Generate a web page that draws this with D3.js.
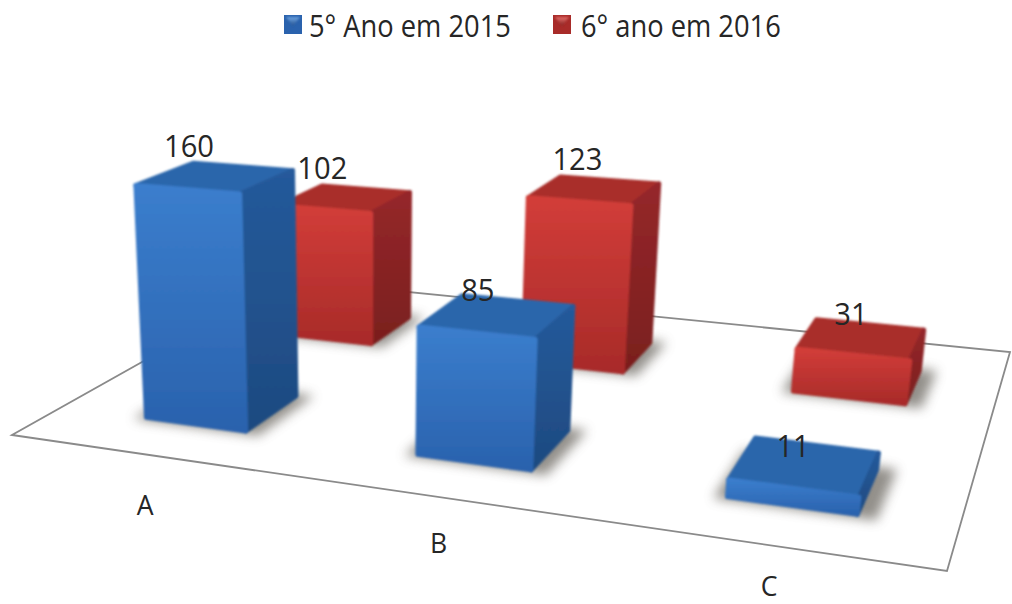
<!DOCTYPE html>
<html>
<head>
<meta charset="utf-8">
<script src="https://cdn.jsdelivr.net/npm/d3@7/dist/d3.min.js"></script>
<style>
  html, body { margin: 0; padding: 0; background: #fff; }
  svg { display: block; }
  text { font-family: "Open Sans", sans-serif; fill: #262626; }
</style>
</head>
<body>
<svg id="chart" width="1012" height="604"></svg>
<script>
// Chart data
const categories = ["A", "B", "C"];
const seriesNames = ["5° Ano em 2015", "6° ano em 2016"];
const values2015 = [160, 85, 11];
const values2016 = [102, 123, 31];
const seriesValues = [values2015, values2016];

// Palette per series: front top/bottom, side top/bottom, top face, rim light
const palettes = [
  { front: ["#3b7ecd", "#2a62ad"], side: ["#255a9b", "#1e4a80"], top: "#2c66ab", rim: "#4a8ad6", swatch: ["#6fa6e4", "#234f8c"] },
  { front: ["#d23d39", "#a82b29"], side: ["#95272a", "#7a1f1e"], top: "#a92e2b", rim: "#e0524d", swatch: ["#e8706b", "#7d1f1e"] }
];

const svg = d3.select("#chart");
const defs = svg.append("defs");

// Floor quadrilateral on screen: front-left, front-right, back-right, back-left
const floorCorners = [[12, 435], [947, 571], [1010, 352], [288, 280]];
const verticalVanish = [371, 5327];

// Camera matrix from unit floor square plus a vanishing point for the vertical axis
function buildCamera([p0, p1, p2, p3]) {
  const dx1 = p1[0] - p2[0], dx2 = p3[0] - p2[0], sx = p0[0] - p1[0] + p2[0] - p3[0];
  const dy1 = p1[1] - p2[1], dy2 = p3[1] - p2[1], sy = p0[1] - p1[1] + p2[1] - p3[1];
  const den = dx1 * dy2 - dx2 * dy1;
  const g = (sx * dy2 - dx2 * sy) / den;
  const h = (dx1 * sy - sx * dy1) / den;
  return {
    a: p1[0] - p0[0] + g * p1[0], b: p3[0] - p0[0] + h * p3[0], c: p0[0],
    d: p1[1] - p0[1] + g * p1[1], e: p3[1] - p0[1] + h * p3[1], f: p0[1],
    g, h
  };
}
const cam = buildCamera(floorCorners);

// Scales: category along the floor's width, series along its depth, value upward
const uScale = d3.scaleBand().domain(categories).range([0.008, 1.008]).paddingInner(0.6).paddingOuter(0.3);
const vScale = d3.scaleBand().domain(seriesNames).range([-0.01, 0.99]).paddingInner(0.62).paddingOuter(0.31);
const zScale = d3.scaleLinear().domain([0, 160]).range([0, -0.0463]);
const labelU = d3.scalePoint().domain(categories).range([0.243, 0.858]);
const labelV = d3.scalePoint().domain(categories).range([-0.178, -0.128]);

// Value labels sit up and to the left of the top face; the offset eases off toward the front right
const labelDx = d3.scaleLinear().domain([195, 840]).range([-27, -11]);
const labelDy = d3.scaleLinear().domain([178, 466]).range([-21, -9]);

function project(u, v, value = 0) {
  const z = zScale(value);
  const w = cam.g * u + cam.h * v + 1 + z;
  return [
    (cam.a * u + cam.b * v + cam.c + z * verticalVanish[0]) / w,
    (cam.d * u + cam.e * v + cam.f + z * verticalVanish[1]) / w
  ];
}
const polygon = d3.line();
const closed = pts => polygon(pts) + "Z";

// Filters and gradients
const addBlur = (id, dev) => defs.append("filter").attr("id", id)
  .attr("x", "-30%").attr("y", "-30%").attr("width", "160%").attr("height", "160%")
  .append("feGaussianBlur").attr("stdDeviation", dev);
addBlur("soft", 1.3);
addBlur("ground", 6);

function addGradient(id, [c0, c1]) {
  const lg = defs.append("linearGradient").attr("id", id)
    .attr("x1", 0).attr("y1", 0).attr("x2", 0).attr("y2", 1);
  lg.append("stop").attr("offset", 0).attr("stop-color", c0);
  lg.append("stop").attr("offset", 1).attr("stop-color", c1);
}
palettes.forEach((p, i) => {
  addGradient(`front${i}`, p.front);
  addGradient(`side${i}`, p.side);
  addGradient(`swatch${i}`, p.swatch);
});

// Floor
svg.append("path")
  .attr("d", closed([[0, 0], [1, 0], [1, 1], [0, 1]].map(([u, v]) => project(u, v))))
  .attr("fill", "#fff").attr("stroke", "#8a8a8a").attr("stroke-width", 1.8);

// Flatten to bars, painted from the back of the floor to the front
const inset = 0.003;
const bars = seriesNames.flatMap((name, s) => categories.map((cat, c) => ({
  s, cat, name, value: seriesValues[s][c],
  u0: uScale(cat) + inset, u1: uScale(cat) + uScale.bandwidth() - inset,
  v0: vScale(name) + inset, v1: vScale(name) + vScale.bandwidth() - inset
}))).sort((a, b) => d3.descending(a.s, b.s));

const barGroups = svg.append("g").selectAll("g").data(bars).join("g");

// Ground shadow
barGroups.append("path")
  .attr("d", b => {
    const m = 0.012;
    return closed([[b.u0 - m, b.v0 - m], [b.u1 + m * 1.6, b.v0 - m], [b.u1 + m * 1.6, b.v1 + m], [b.u0 - m, b.v1 + m]]
      .map(([u, v]) => project(u, v)));
  })
  .attr("fill", "#6e6a64").attr("opacity", 0.75).attr("filter", "url(#ground)");

const solids = barGroups.append("g").attr("filter", "url(#soft)")
  .attr("stroke-linejoin", "round").attr("stroke-width", 4.5);

// Top, side and front faces of each column
solids.append("path")
  .attr("d", b => closed([[b.u0, b.v0], [b.u1, b.v0], [b.u1, b.v1], [b.u0, b.v1]].map(([u, v]) => project(u, v, b.value))))
  .attr("fill", b => palettes[b.s].top).attr("stroke", b => palettes[b.s].top);
solids.append("path")
  .attr("d", b => closed([project(b.u1, b.v0, b.value), project(b.u1, b.v1, b.value), project(b.u1, b.v1), project(b.u1, b.v0)]))
  .attr("fill", b => `url(#side${b.s})`).attr("stroke", b => `url(#side${b.s})`);
solids.append("path")
  .attr("d", b => closed([project(b.u0, b.v0, b.value), project(b.u1, b.v0, b.value), project(b.u1, b.v0), project(b.u0, b.v0)]))
  .attr("fill", b => `url(#front${b.s})`).attr("stroke", b => `url(#front${b.s})`);

// Text helper: the x scale narrows the installed face to the chart's letter widths
function putText(sel, x, y, anchor, size, scaleX) {
  return sel.attr("transform", d => `translate(${x(d)},${y(d)}) scale(${scaleX},1)`)
    .attr("text-anchor", anchor).attr("font-size", size);
}

// Value labels
const topCentre = b => project((b.u0 + b.u1) / 2, (b.v0 + b.v1) / 2, b.value);
const valueLabels = svg.append("g").selectAll("text").data(bars).join("text")
  .text(b => b.value);
putText(valueLabels,
  b => topCentre(b)[0] + labelDx(topCentre(b)[0]),
  b => topCentre(b)[1] + labelDy(topCentre(b)[1]),
  "middle", 31, 0.94);

// Category labels
const catLabels = svg.append("g").selectAll("text").data(categories).join("text").text(d => d);
putText(catLabels,
  d => project(labelU(d), labelV(d))[0],
  d => project(labelU(d), labelV(d))[1] + 10,
  "middle", 28, 0.95);

// Legend
const legendX = d3.scaleOrdinal().domain(seriesNames).range([284, 553]);
const legendTextX = d3.scaleOrdinal().domain(seriesNames).range([25, 28]);
const legend = svg.append("g").selectAll("g").data(seriesNames).join("g")
  .attr("transform", d => `translate(${legendX(d)},15)`);
legend.append("rect").attr("width", 18).attr("height", 19)
  .attr("fill", (d, i) => palettes[i].front[1]);
legend.append("path").attr("d", closed([[2, 2], [16, 2], [9, 11]]))
  .attr("fill", (d, i) => `url(#swatch${i})`).attr("filter", "url(#soft)");
putText(legend.append("text").text(d => d), d => legendTextX(d), () => 22, "start", 31, 0.88);
</script>
</body>
</html>
